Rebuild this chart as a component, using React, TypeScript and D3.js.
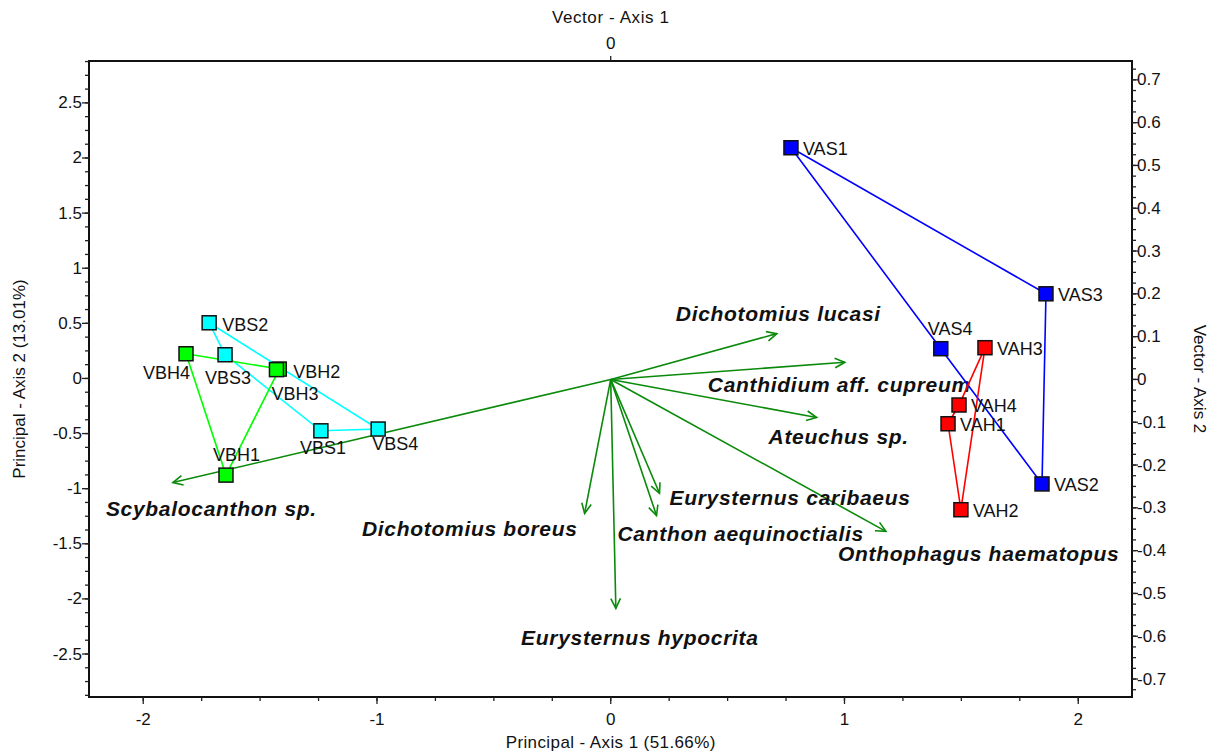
import * as d3 from 'd3';
import React from 'react';

// site scores (principal axes)
const siteNames = ['VAS1', 'VAS2', 'VAS3', 'VAS4', 'VAH1', 'VAH2', 'VAH3', 'VAH4',
  'VBS1', 'VBS2', 'VBS3', 'VBS4', 'VBH1', 'VBH2', 'VBH3', 'VBH4'];
const siteX = [0.771, 1.845, 1.862, 1.412, 1.443, 1.498, 1.601, 1.49,
  -1.24, -1.718, -1.65, -0.995, -1.646, -1.418, -1.43, -1.817];
const siteY = [2.093, -0.957, 0.768, 0.27, -0.411, -1.191, 0.279, -0.241,
  -0.475, 0.505, 0.215, -0.459, -0.877, 0.085, 0.08, 0.224];

// hull outlines, in drawing order
const hullVAS = ['VAS1', 'VAS3', 'VAS2', 'VAS4'];
const hullVAH = ['VAH3', 'VAH4', 'VAH1', 'VAH2'];
const hullVBS = ['VBS2', 'VBS4', 'VBS1', 'VBS3'];
const hullVBH = ['VBH4', 'VBH2', 'VBH1'];

// species vectors
const speciesNames = ['Dichotomius lucasi', 'Canthidium aff. cupreum', 'Ateuchus sp.',
  'Eurysternus caribaeus', 'Canthon aequinoctialis', 'Onthophagus haematopus',
  'Dichotomius boreus', 'Eurysternus hypocrita', 'Scybalocanthon sp.'];
const vecX = [0.388, 0.547, 0.481, 0.114, 0.107, 0.643, -0.061, 0.012, -1.023];
const vecY = [0.107, 0.04, -0.089, -0.266, -0.318, -0.355, -0.313, -0.535, -0.241];

const leftTicks = [2.5, 2, 1.5, 1, 0.5, 0, -0.5, -1, -1.5, -2, -2.5];
const bottomTicks = [-2, -1, 0, 1, 2];
const rightTicks = [0.7, 0.6, 0.5, 0.4, 0.3, 0.2, 0.1, 0, -0.1, -0.2, -0.3, -0.4, -0.5, -0.6, -0.7];
const topTicks = [0];

const W = 1218;
const H = 755;
const margin = { top: 61, right: 86, bottom: 58, left: 89 };
const FONT = '"Liberation Sans", Arial, sans-serif';

const groupColor: Record<string, string> = { VAS: '#0000ff', VAH: '#ff0000', VBS: '#00ffff', VBH: '#00ff00' };

// label placement next to markers / arrow tips
const siteLabelOffset: Record<string, [number, number]> = {
  VBH4: [-43, 19], VBS3: [-20, 23], VBH3: [-5, 24], VBH2: [14, 3], VBS2: [13, 2],
  VBS1: [-21, 17], VBS4: [-6, 15], VBH1: [-13, -20], VAS4: [-13, -20],
};
const speciesLabelOffset: [number, number, string][] = [
  [-101, -20, 'start'], [-137, 22, 'start'], [-48, 19, 'start'],
  [10, 4, 'start'], [-39, 18, 'start'], [-48, 22, 'start'],
  [-7, 15, 'end'], [24, 29, 'middle'], [-67, 26, 'start'],
];

const fmt = (v: number) => String(Math.round(v * 1000) / 1000);

export default function App() {
  const x0 = margin.left;
  const x1 = W - margin.right;
  const y0 = margin.top;
  const y1 = H - margin.bottom;

  const x = d3.scaleLinear().domain([-2.232, 2.23]).range([x0, x1]);
  const y = d3.scaleLinear().domain([-2.89, 2.88]).range([y1, y0]);
  const vx = d3.scaleLinear().domain([-1.219, 1.218]).range([x0, x1]);
  const vy = d3.scaleLinear().domain([-0.742, 0.744]).range([y1, y0]);

  const leftMinor = d3.range(-23, 24).map(i => i * 0.125).filter(v => y(v) <= y1 && y(v) >= y0);
  const bottomMinor = d3.range(-8, 9).map(i => i * 0.25).filter(v => x(v) >= x0 && x(v) <= x1);
  const rightMinor = d3.range(-29, 30).map(i => i * 0.025).filter(v => vy(v) <= y1 && vy(v) >= y0);

  const site = (n: string) => {
    const i = siteNames.indexOf(n);
    return [x(siteX[i]), y(siteY[i])] as [number, number];
  };
  const line = d3.line();
  const hulls = [hullVAS, hullVAH, hullVBS, hullVBH];

  const arrowHead = (ex: number, ey: number, ox: number, oy: number) => {
    const a = Math.atan2(ey - oy, ex - ox);
    const len = 11;
    const spread = 0.45;
    const p1: [number, number] = [ex - len * Math.cos(a - spread), ey - len * Math.sin(a - spread)];
    const p2: [number, number] = [ex - len * Math.cos(a + spread), ey - len * Math.sin(a + spread)];
    return line([p1, [ex, ey], p2]) as string;
  };

  return (
    <svg width={W} height={H} style={{ position: 'absolute', left: 0, top: 0, background: '#fff' }}
      fontFamily={FONT}>
      <rect width={W} height={H} fill="#fff" />

      {/* species vectors */}
      <g stroke="#0a8a0a" strokeWidth={1.6} fill="none">
        {speciesNames.map((s, i) => {
          const ox = vx(0), oy = vy(0);
          const ex = vx(vecX[i]), ey = vy(vecY[i]);
          return (
            <g key={s}>
              <line x1={ox} y1={oy} x2={ex} y2={ey} />
              <path d={arrowHead(ex, ey, ox, oy)} />
            </g>
          );
        })}
      </g>
      <g fontSize={21} fontWeight="bold" fontStyle="italic" fill="#111" letterSpacing={0.7}>
        {speciesNames.map((s, i) => {
          const [dx, dy, anchor] = speciesLabelOffset[i];
          return (
            <text key={s} x={vx(vecX[i]) + dx} y={vy(vecY[i]) + dy} textAnchor={anchor}
              dominantBaseline="central">{s}</text>
          );
        })}
      </g>

      {/* group outlines */}
      {hulls.map(h => (
        <path key={h[0]} d={line([...h, h[0]].map(site)) as string} fill="none"
          stroke={groupColor[h[0].slice(0, 3)]} strokeWidth={1.6} />
      ))}

      {/* site markers */}
      {siteNames.map((n, i) => (
        <rect key={n} x={x(siteX[i]) - 7} y={y(siteY[i]) - 7} width={14} height={14}
          fill={groupColor[n.slice(0, 3)]} stroke="#111" strokeWidth={1.5} />
      ))}
      <g fontSize={18} fill="#111">
        {siteNames.map((n, i) => {
          const [dx, dy] = siteLabelOffset[n] || [12, 1];
          return (
            <text key={n} x={x(siteX[i]) + dx} y={y(siteY[i]) + dy} dominantBaseline="central">{n}</text>
          );
        })}
      </g>

      {/* frame */}
      <rect x={x0} y={y0} width={x1 - x0} height={y1 - y0} fill="none" stroke="#111" strokeWidth={2} />

      {/* left axis */}
      <g stroke="#222" strokeWidth={1.3}>
        {leftMinor.map(v => <line key={'lm' + v} x1={x0 - 4} x2={x0} y1={y(v)} y2={y(v)} />)}
        {leftTicks.map(v => <line key={'lt' + v} x1={x0 - 7} x2={x0} y1={y(v)} y2={y(v)} />)}
      </g>
      <g fontSize={17} fill="#111" textAnchor="end">
        {leftTicks.map(v => (
          <text key={v} x={x0 - 7} y={y(v)} dominantBaseline="central">{fmt(v)}</text>
        ))}
      </g>

      {/* bottom axis */}
      <g stroke="#222" strokeWidth={1.3}>
        {bottomMinor.map(v => <line key={'bm' + v} x1={x(v)} x2={x(v)} y1={y1} y2={y1 + 4} />)}
        {bottomTicks.map(v => <line key={'bt' + v} x1={x(v)} x2={x(v)} y1={y1} y2={y1 + 7} />)}
      </g>
      <g fontSize={17} fill="#111" textAnchor="middle">
        {bottomTicks.map(v => (
          <text key={v} x={x(v)} y={y1 + 22} dominantBaseline="central">{fmt(v)}</text>
        ))}
      </g>

      {/* right axis (vectors) */}
      <g stroke="#222" strokeWidth={1.3}>
        {rightMinor.map(v => <line key={'rm' + v} x1={x1} x2={x1 + 4} y1={vy(v)} y2={vy(v)} />)}
        {rightTicks.map(v => <line key={'rt' + v} x1={x1} x2={x1 + 6} y1={vy(v)} y2={vy(v)} />)}
      </g>
      <g fontSize={17} fill="#111">
        {rightTicks.map(v => (
          <text key={v} x={x1 + 5} y={vy(v)} dominantBaseline="central">{fmt(v)}</text>
        ))}
      </g>

      {/* top axis (vectors) */}
      <g stroke="#222" strokeWidth={1.3}>
        {topTicks.map(v => <line key={'tt' + v} x1={vx(v)} x2={vx(v)} y1={y0} y2={y0 - 5} />)}
      </g>
      <g fontSize={17} fill="#111" textAnchor="middle">
        {topTicks.map(v => (
          <text key={v} x={vx(v)} y={y0 - 18} dominantBaseline="central">{fmt(v)}</text>
        ))}
      </g>

      {/* axis titles */}
      <g fontSize={17} fill="#111" textAnchor="middle">
        <text x={vx(0)} y={17} dominantBaseline="central" letterSpacing={0.6}>Vector - Axis 1</text>
        <text x={x(0)} y={742} dominantBaseline="central" letterSpacing={0.4}>Principal - Axis 1 (51.66%)</text>
        <text transform={`translate(19,${(y0 + y1) / 2}) rotate(-90)`} dominantBaseline="central">
          Principal - Axis 2 (13.01%)
        </text>
        <text transform={`translate(1199,${(y0 + y1) / 2}) rotate(90)`} dominantBaseline="central">
          Vector - Axis 2
        </text>
      </g>
    </svg>
  );
}
